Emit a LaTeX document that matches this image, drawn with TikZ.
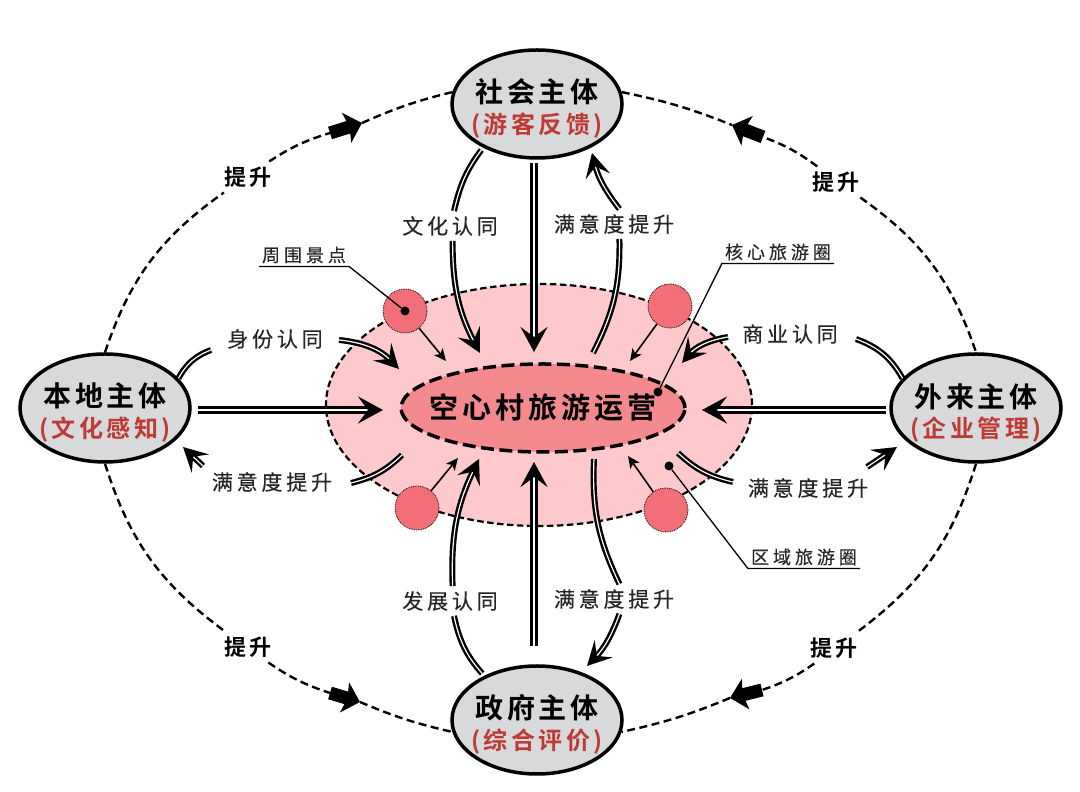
\documentclass[tikz,border=0pt]{standalone}
\usepackage{fontspec}
\setmainfont{Noto Sans CJK SC}
\newfontfamily\bigfont[LetterSpace=14,BoldFont={Noto Sans CJK SC Bold}]{Noto Sans CJK SC}
\newfontfamily\labfont[LetterSpace=18,FakeBold=0.3]{Noto Sans CJK SC}
\newfontfamily\smallfont[LetterSpace=22,FakeBold=0.3]{Noto Sans CJK SC}
\usetikzlibrary{shapes.geometric, arrows.meta}
\definecolor{subjgray}{HTML}{D7D9DB}
\definecolor{zonepink}{HTML}{FDC9CC}
\definecolor{corered}{HTML}{F48A8D}
\definecolor{spotred}{HTML}{F26F78}
\definecolor{subred}{HTML}{BE3A34}
\tikzstyle{subject} = [ellipse, minimum width=170pt, minimum height=108pt, inner xsep=-14pt, inner ysep=-8pt,
align=center, line width=3.5pt, draw=black, fill=subjgray]
\tikzstyle{zone} = [ellipse, minimum width=426pt, minimum height=242pt, dash pattern=on 6.5pt off 3.5pt,
line width=2.2pt, draw=black, fill=zonepink]
\tikzstyle{core} = [ellipse, minimum width=284pt, minimum height=88pt, inner xsep=-20pt, inner ysep=0pt, dash pattern=on 13pt off 5.5pt,
line width=3.5pt, draw=black, fill=corered, font=\bigfont\fontsize{29}{32}\selectfont\bfseries]
\tikzstyle{spot} = [circle, minimum size=44pt, inner sep=0pt, densely dotted, line width=0.8pt, draw=black, fill=spotred]
\tikzstyle{dot} = [circle, minimum size=9pt, inner sep=0pt, fill=black]
\tikzstyle{lab} = [inner sep=5pt, text=black!85, font=\labfont\fontsize{21}{24}\selectfont]
\tikzstyle{boost} = [inner sep=5pt, font=\bigfont\fontsize{22}{24}\selectfont\bfseries]
\tikzstyle{ringlab} = [inner xsep=3pt, inner ysep=3pt, text=black!85, font=\smallfont\fontsize{18}{20}\selectfont]
\tikzstyle{leader} = [line width=1.3pt]
\tikzstyle{main} = [line width=2.8pt, double=white, double distance=2pt, -{Stealth[length=25pt,width=27pt,inset=10pt]}]
\tikzstyle{mainline} = [line width=2.4pt, double=white, double distance=1.2pt]
\tikzstyle{curved} = [mainline, -{Stealth[length=24pt,width=25pt,inset=10pt]}]
\tikzstyle{thin arrow} = [line width=1.6pt, -{Stealth[length=12pt,width=11pt,inset=3pt]}]
\tikzstyle{orbit} = [line width=2.4pt, dash pattern=on 8pt off 4.5pt]
\tikzstyle{fat} = [line width=13pt, -{Stealth[length=16pt,width=31pt,inset=3pt]}]
\newcommand{\subjtext}[2]{{\bigfont\fontsize{28}{32}\selectfont\bfseries\rule{0pt}{33pt}#1}\\[6pt]{\bigfont\fontsize{24}{28}\selectfont\bfseries\color{subred} #2}}

\begin{document}
\begin{tikzpicture}[x=1pt, y=1pt, node distance=100pt]
\useasboundingbox (0,0) rectangle (1080,792);

% ------------------------- nodes -------------------------

% ----- node: tourism rings
\node(zone)[zone] at (539,387) {};
\node(core)[core, at=(zone), xshift=4pt, yshift=-3pt] {空心村旅游运营};
\node(spot1)[spot] at (405,481) {};
\node(spot2)[spot] at (670,486) {};
\node(spot3)[spot] at (417,284) {};
\node(spot4)[spot] at (666,282) {};
% ----- node: subjects
\node(soc)[subject, above of=zone, xshift=-2pt, yshift=201pt] {\subjtext{社会主体}{(游客反馈)}};
\node(gov)[subject, below of=zone, xshift=-2pt, yshift=-215pt] {\subjtext{政府主体}{(综合评价)}};
\node(loc)[subject, left of=zone, xshift=-334pt, yshift=-3pt] {\subjtext{本地主体}{(文化感知)}};
\node(ext)[subject, right of=zone, xshift=337pt, yshift=-3pt] {\subjtext{外来主体}{(企业管理)}};
% ----- node: labels
\node(cult)[lab] at (450,566) {文化认同};
\node(sat1)[lab] at (614,568) {满意度提升};
\node(iden)[lab] at (275,453) {身份认同};
\node(sat2)[lab] at (272,310) {满意度提升};
\node(dev)[lab] at (450,191) {发展认同};
\node(sat3)[lab] at (614,193) {满意度提升};
\node(biz)[lab] at (790,458) {商业认同};
\node(sat4)[lab] at (808,304) {满意度提升};
\node(up1)[boost] at (248,615) {提升};
\node(up2)[boost] at (836,610) {提升};
\node(up3)[boost] at (248,145) {提升};
\node(up4)[boost] at (834,144) {提升};
\node(ring1)[ringlab] at (304,537) {周围景点};
\node(ring2)[ringlab] at (778,540) {核心旅游圈};
\node(ring3)[ringlab] at (804,235) {区域旅游圈};
\node(dot1)[dot] at (405,481) {};
\node(dot2)[dot] at (658,400) {};
\node(dot3)[dot] at (669,326) {};
% ----- free ends of the arrows
\coordinate(tipA) at (480,439);
\coordinate(tipB) at (592,639);
\coordinate(tipC) at (399,423);
\coordinate(tipD) at (183,345);
\coordinate(tipE) at (479,333);
\coordinate(tipF) at (587,126);
\coordinate(tipG) at (682,429);
\coordinate(tipH) at (897,345);
\coordinate(startB) at (593,439);
\coordinate(endC) at (211,442);
\coordinate(startC) at (339,452);
\coordinate(startD) at (402,337);
\coordinate(endD) at (351,309);
\coordinate(startF) at (594,333);
\coordinate(endG) at (856,453);
\coordinate(startG) at (728,455);
\coordinate(startH) at (678,339);
\coordinate(endH) at (733,310);
\coordinate(startD2) at (203,326);
\coordinate(startH2) at (867,325);
\coordinate(tipN) at (534,440);
\coordinate(tipS) at (534,330);
\coordinate(tipW) at (383,382);
\coordinate(tipO) at (702,382);
\coordinate(tip1) at (446,431);
\coordinate(tip2) at (630,431);
\coordinate(tip3) at (458,334);
\coordinate(tip4) at (628,336);
\coordinate(fatA1) at (330,659);
\coordinate(fatA2) at (362,669);
\coordinate(fatB1) at (763,655);
\coordinate(fatB2) at (732,667);
\coordinate(fatC1) at (330,99);
\coordinate(fatC2) at (360,90);
\coordinate(fatD1) at (762,102);
\coordinate(fatD2) at (730,94);

% ------------------------- connections -------------------------
% straight arrows into the core
\draw[main, shorten <=3pt](soc.south -| tipN)--(tipN);
\draw[main, shorten <=18pt](gov.north -| tipS)--(tipS);
\draw[main, shorten <=6pt](loc.east |- tipW)--(tipW);
\draw[main, shorten <=3pt](ext.west |- tipO)--(tipO);
% curved arrows, cut by their labels
\draw[mainline, shorten <=3pt](soc.219) to[bend right=12] (cult.75);
\draw[curved](cult.-80) to[bend right=14] (tipA);
\draw[mainline](startB) to[bend right=14] (sat1.-70);
\draw[curved](sat1.70) to[bend left=12] (tipB);
\draw[mainline](loc.22) to[bend left=20] (endC);
\draw[curved](startC) to[bend left=20] (tipC);
\draw[mainline](startD) to[bend left=15] (endD);
\draw[curved](startD2)--(tipD);
\draw[mainline, shorten <=3pt](gov.140) to[bend left=15] (dev.-75);
\draw[curved](dev.80) to[bend left=14] (tipE);
\draw[mainline](startF) to[bend right=14] (sat3.70);
\draw[curved](sat3.-70) to[bend left=12] (tipF);
\draw[mainline](ext.158) to[bend right=20] (endG);
\draw[curved](startG) to[bend right=20] (tipG);
\draw[mainline](startH) to[bend right=15] (endH);
\draw[curved](startH2)--(tipH);
% thin arrows from the spots
\draw[thin arrow](spot1)--(tip1);
\draw[thin arrow](spot2)--(tip2);
\draw[thin arrow](spot3)--(tip3);
\draw[thin arrow](spot4)--(tip4);
% leaders of the ring labels
\draw[leader](ring1.south west)--(ring1.south east)--(dot1);
\draw[leader](ring2.south east)--(ring2.south west)--(dot2);
\draw[leader](ring3.south east)--(ring3.south west)--(dot3);
% dashed orbit
\draw[orbit](loc.north) to[bend left=18] (up1);
\draw[orbit](up1) to[bend left=8] (fatA1);
\draw[fat](fatA1)--(fatA2);
\draw[orbit](fatA2) to[bend left=5] (soc.172);
\draw[orbit](soc.8) to[bend left=5] (fatB2);
\draw[fat](fatB1)--(fatB2);
\draw[orbit](up2) to[bend right=8] (fatB1);
\draw[orbit](up2) to[bend left=18] (ext.north);
\draw[orbit](loc.south) to[bend right=18] (up3);
\draw[orbit](up3) to[bend right=8] (fatC1);
\draw[fat](fatC1)--(fatC2);
\draw[orbit](fatC2) to[bend right=5] (gov.188);
\draw[orbit](ext.south) to[bend left=18] (up4);
\draw[orbit](up4) to[bend left=8] (fatD1);
\draw[fat](fatD1)--(fatD2);
\draw[orbit](fatD2) to[bend left=5] (gov.-8);

\end{tikzpicture}
\end{document}
